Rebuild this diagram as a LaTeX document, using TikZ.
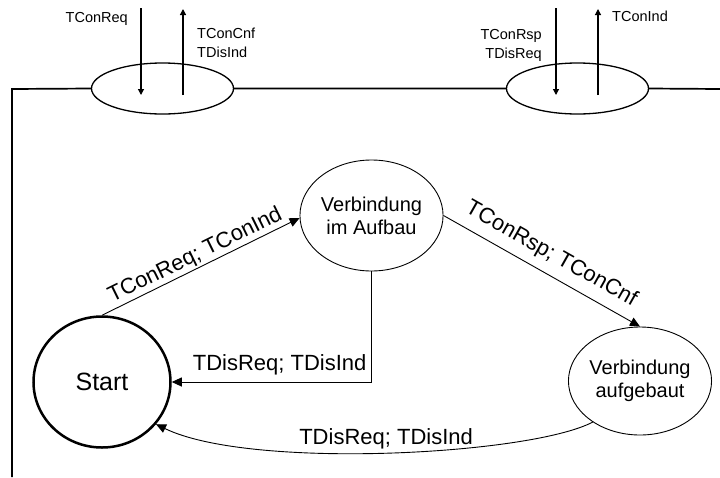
\documentclass[tikz,border=0pt]{standalone}
\usepackage{fontspec}
\setmainfont{Liberation Sans}
\usetikzlibrary{arrows.meta,shapes.geometric,positioning}

\begin{document}
\begin{tikzpicture}[x=1pt,y=-1pt,
  state/.style={draw,ellipse,line width=.9pt,inner sep=0pt,align=center,font=\fontsize{20}{23}\selectfont},
  sap/.style={draw,ellipse,line width=1.3pt,minimum width=142pt,minimum height=51pt,inner sep=0pt},
  frame/.style={line width=1.7pt},
  trans/.style={line width=.9pt,-{Triangle[length=10pt,width=9pt]}},
  prim/.style={line width=1.2pt,-{Triangle[length=6pt,width=6pt]}},
  lbl/.style={font=\fontsize{22}{26}\selectfont,inner sep=1.5pt},
  small/.style={font=\fontsize{14.5}{19}\selectfont,inner sep=0pt}]
  \useasboundingbox (0,0) rectangle (720,477);
  % Dienstzugangspunkte und Rahmen
  \node[sap] (sapA) at (162.5,88.5) {};
  \node[sap] (sapB) at (577.5,88.5) {};
  \coordinate (corner) at (12,89);
  \coordinate (bottom) at (12,477);
  \coordinate (edge) at (720,89);
  \draw[frame] (bottom) -- (corner) -- (sapA.west) (sapA.east) -- (sapB.west) (sapB.east) -- (edge);
  % Primitive
  \coordinate (reqIn) at (141,8);    \coordinate (reqOut) at (141,95);
  \coordinate (cnfIn) at (183,95);   \coordinate (cnfOut) at (183,9);
  \coordinate (rspIn) at (556,8);    \coordinate (rspOut) at (556,95);
  \coordinate (indIn) at (598,95);   \coordinate (indOut) at (598,9);
  \draw[prim] (reqIn) -- (reqOut);
  \draw[prim] (cnfIn) -- (cnfOut);
  \draw[prim] (rspIn) -- (rspOut);
  \draw[prim] (indIn) -- (indOut);
  \node[small,anchor=base east] (tReq) at (128,22) {TConReq};
  \node[small,anchor=north west,align=left] (tCnf) at (197,28) {TConCnf\\TDisInd};
  \node[small,anchor=north east,align=right] (tRsp) at (542,29) {TConRsp\\TDisReq};
  \node[small,anchor=base west] (tInd) at (612,21) {TConInd};
  % Zustaende
  \node[state,line width=2.5pt,minimum width=137pt,minimum height=131pt,font=\fontsize{25}{30}\selectfont] (start) at (102,382) {Start};
  \node[state,minimum width=140pt,minimum height=111pt] (aufbau) at (371.5,215.5) {Verbindung\\im Aufbau};
  \node[state,minimum width=140pt,minimum height=108pt] (aufgebaut) at (640,381) {Verbindung\\aufgebaut};
  % Uebergaenge
  \draw[trans] (start.north) -- (aufbau.182) node[lbl,midway,sloped,above] {TConReq; TConInd};
  \draw[trans] (aufbau.east) -- (aufgebaut.north) node[lbl,midway,sloped,above=7pt] {TConRsp; TConCnf};
  \draw[trans] (aufbau.south) |- (start.east) node[lbl,pos=.73,above=5pt] {TDisReq; TDisInd};
  \draw[trans] (aufgebaut.221) .. controls (530,455) and (250,470) .. (start.322) node[lbl,pos=.5,above=2pt] {TDisReq; TDisInd};
\end{tikzpicture}
\end{document}
